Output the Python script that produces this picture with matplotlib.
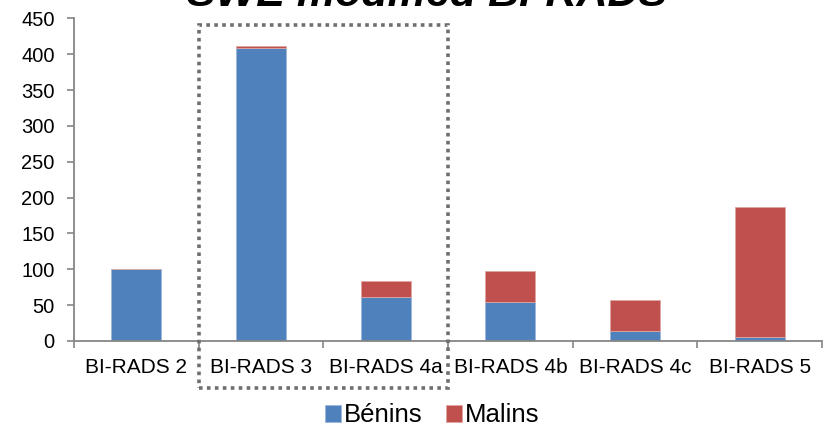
import matplotlib
matplotlib.use("Agg")
import matplotlib.pyplot as plt
from matplotlib.patches import Rectangle
import numpy as np

plt.rcParams['font.family'] = ['Liberation Sans', 'DejaVu Sans']

categories = ["BI-RADS 2", "BI-RADS 3", "BI-RADS 4a", "BI-RADS 4b", "BI-RADS 4c", "BI-RADS 5"]
benins = [101, 409, 61, 55, 14, 6]
malins = [0, 3, 23, 42, 43, 181]
series_names = ["Bénins", "Malins"]
title = "SWE modified BI-RADS"
yticks = [0, 50, 100, 150, 200, 250, 300, 350, 400, 450]

blue = "#4F81BD"
red = "#C0504D"
axis_gray = "#868686"

W, H = 827, 428
fig = plt.figure(figsize=(W / 100, H / 100), dpi=100)
ax = fig.add_axes([74 / W, 1 - 341 / H, (822 - 74) / W, (341 - 18.4) / H])

x = np.arange(len(categories))
ax.bar(x, benins, width=0.4, color=blue, edgecolor="#9DB7DC", linewidth=0.6, label=series_names[0], zorder=2)
ax.bar(x, malins, width=0.4, bottom=benins, color=red, edgecolor="#E0A5A3", linewidth=0.6, label=series_names[1], zorder=2)

ax.set_xlim(-0.5, len(categories) - 0.5)
ax.set_ylim(0, 450)
ax.set_yticks(yticks)
ax.set_yticklabels([str(v) for v in yticks], fontsize=14.5)

ax.set_xticks(np.arange(len(categories) + 1) - 0.5)
ax.set_xticklabels([""] * (len(categories) + 1))
ax.set_xticks(x, minor=True)
ax.set_xticklabels(categories, minor=True, fontsize=15)
ax.tick_params(axis="x", which="minor", length=0, pad=12)
ax.tick_params(axis="x", which="major", length=5, color=axis_gray, width=1.2, direction="out")
ax.tick_params(axis="y", length=5, color=axis_gray, width=1.2, direction="out", pad=9)

for s in ["top", "right"]:
    ax.spines[s].set_visible(False)
for s in ["left", "bottom"]:
    ax.spines[s].set_color(axis_gray)
    ax.spines[s].set_linewidth(1.3)

# dotted highlight box around BI-RADS 3 and 4a
y_top = 440.7
y_bot = -(388 - 341) / ((341 - 18.4) / 450)
box = Rectangle((0.5, y_bot), 2.0, y_top - y_bot, fill=False, edgecolor="#6E6E6E",
                linewidth=2.6, linestyle=(0, (1.0, 1.2)), clip_on=False, zorder=5,
                transform=ax.transData)
box.set_capstyle("butt")
ax.add_patch(box)

fig.text(427 / W, 1 - 6.5 / H, title, ha="center", va="baseline", fontsize=31,
         fontweight="bold", fontstyle="italic")

leg = fig.legend(loc="center", bbox_to_anchor=(432 / W, 1 - 415.5 / H), ncol=2, frameon=False,
                 fontsize=18.5, handlelength=0.62, handleheight=0.62, handletextpad=0.12,
                 columnspacing=0.9, borderpad=0, borderaxespad=0)

fig.savefig("out.png", dpi=100)
